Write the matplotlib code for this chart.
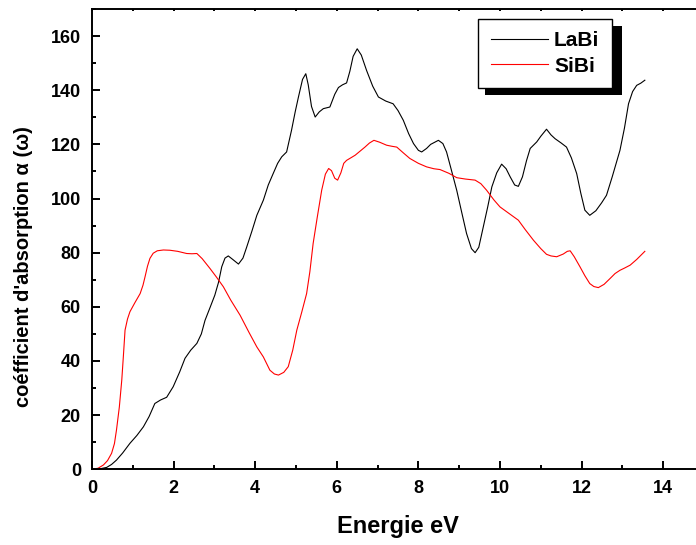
import matplotlib
matplotlib.use("Agg")
import matplotlib.pyplot as plt
from matplotlib.patches import Rectangle

plt.rcParams['font.family'] = ['Liberation Sans', 'DejaVu Sans']
plt.rcParams['font.weight'] = 'bold'

# LaBi curve
labi_x = [0, 0.2, 0.36, 0.48, 0.6, 0.75, 0.93, 1.1, 1.26, 1.4, 1.54, 1.68, 1.83, 1.99,
          2.15, 2.28, 2.42, 2.57, 2.68, 2.77, 2.9, 3.01, 3.1, 3.18, 3.26, 3.34, 3.45,
          3.59, 3.7, 3.79, 3.92, 4.04, 4.2, 4.32, 4.44, 4.55, 4.65, 4.77, 4.89, 4.98,
          5.06, 5.16, 5.24, 5.3, 5.38, 5.47, 5.57, 5.67, 5.83, 5.95, 6.04, 6.14, 6.24,
          6.32, 6.4, 6.5, 6.6, 6.73, 6.88, 7.02, 7.2, 7.38, 7.5, 7.63, 7.76, 7.88, 8.0,
          8.08, 8.2, 8.3, 8.49, 8.6, 8.69, 8.8, 8.94, 9.06, 9.18, 9.3, 9.39, 9.48, 9.59,
          9.7, 9.8, 9.92, 10.04, 10.15, 10.25, 10.36, 10.45, 10.55, 10.65, 10.74, 10.9,
          11.0, 11.14, 11.25, 11.35, 11.5, 11.63, 11.75, 11.88, 11.98, 12.08, 12.2,
          12.35, 12.49, 12.61, 12.75, 12.94, 13.05, 13.15, 13.25, 13.35, 13.45, 13.55]
labi_y = [0, 0.2, 0.7, 1.8, 3.4, 6, 9.6, 12.5, 15.7, 19.5, 24.3, 25.6, 26.6, 30.5,
          36, 41, 44, 46.5, 50, 55, 60, 64.3, 69, 74.8, 78, 78.8, 77.5,
          75.8, 78, 82, 88, 93.8, 99.4, 105, 109.2, 113, 115.4, 117.2, 125.2, 132,
          137.5, 144, 146.1, 142, 134, 130.1, 132, 133.2, 133.8, 138.5, 141, 142, 142.7,
          147, 152.5, 155.3, 153, 147.3, 141.5, 137.5, 136, 135, 132.5, 128.9, 124, 120.3, 117.8,
          117.2, 118.5, 120, 121.5, 120.3, 117.2, 111, 103, 95, 87.1, 81.5, 80, 82, 89.5,
          97, 104.3, 109.5, 112.7, 111, 108, 105, 104.5, 108, 114, 118.5, 120.9,
          123, 125.6, 123.5, 122.1, 120.5, 119, 115, 109.2, 102, 95.7, 93.8,
          95.5, 98.4, 101.2, 108, 117.8, 126, 135, 139.5, 141.8, 142.6, 143.7]

# SiBi curve
sibi_x = [0, 0.15, 0.28, 0.38, 0.48, 0.55, 0.6, 0.67, 0.73, 0.77, 0.81, 0.87, 0.93,
          1.05, 1.18, 1.25, 1.3, 1.36, 1.42, 1.5, 1.6, 1.75, 1.91, 2.1, 2.32, 2.45,
          2.57, 2.7, 2.89, 3.05, 3.22, 3.4, 3.63, 3.85, 4.04, 4.2, 4.36, 4.47, 4.57,
          4.7, 4.81, 4.92, 5.02, 5.14, 5.26, 5.34, 5.42, 5.52, 5.63, 5.72, 5.8, 5.87,
          5.95, 6.02, 6.1, 6.17, 6.24, 6.34, 6.45, 6.57, 6.69, 6.8, 6.91, 7.05, 7.22,
          7.35, 7.47, 7.62, 7.79, 8.0, 8.2, 8.38, 8.53, 8.75, 8.94, 9.15, 9.39, 9.53,
          9.67, 9.85, 10.0, 10.22, 10.45, 10.62, 10.82, 11.0, 11.14, 11.25, 11.39,
          11.55, 11.65, 11.72, 11.82, 11.96, 12.08, 12.2, 12.3, 12.41, 12.55, 12.7,
          12.82, 12.94, 13.05, 13.19, 13.35, 13.55]
sibi_y = [0, 0.4, 1.6, 3.2, 5.9, 9.5, 14.5, 23, 33, 42, 51.4, 55.5, 58.2,
          61.5, 64.9, 68, 71.1, 75, 77.9, 79.8, 80.7, 81, 80.9, 80.5, 79.7, 79.6,
          79.7, 77.8, 74.2, 71, 67.4, 62.5, 56.9, 50.5, 45.2, 41.5, 36.6, 35.2, 34.8,
          35.8, 37.9, 44, 51.4, 58, 64.9, 73, 83.4, 93, 103.1, 109, 111.1, 110.3,
          107.5, 106.8, 109.5, 113, 114.1, 115, 116, 117.5, 119, 120.5, 121.5, 120.8, 119.7,
          119.3, 119, 117, 114.8, 113, 111.7, 111, 110.7, 109.3, 107.7, 107.2, 106.8, 105.5,
          103.1, 99.5, 96.9, 94.5, 92, 88.5, 84.6, 81.5, 79.4, 78.8, 78.5,
          79.5, 80.5, 80.7, 78.5, 74.8, 71.5, 68.6, 67.5, 67.1, 68.3, 70.5,
          72.3, 73.5, 74.3, 75.4, 77.5, 80.5]

fig = plt.figure(figsize=(6.96, 5.45), dpi=100)
ax = fig.add_axes([92 / 696, 1 - 469.3 / 545, 612 / 696, 460.3 / 545])

ax.plot(labi_x, labi_y, color='black', lw=0.8, label='LaBi')
ax.plot(sibi_x, sibi_y, color='red', lw=0.8, label='SiBi')

ax.set_xlim(0, 15)
ax.set_ylim(0, 170)
ax.set_xticks(range(0, 15, 2))
ax.set_xticks(range(1, 15, 2), minor=True)
ax.set_yticks(range(0, 161, 20))
ax.set_yticks(range(10, 171, 20), minor=True)

for s in ax.spines.values():
    s.set_linewidth(1.4)
ax.tick_params(which='major', direction='in', length=6, width=1.4, labelsize=13, pad=8)
ax.tick_params(which='minor', direction='in', length=3, width=1.4)
ax.tick_params(axis='x', which='both', top=True, labeltop=False)
for t in ax.xaxis.get_ticklines(minor=False)[1::2] + ax.xaxis.get_ticklines(minor=True)[1::2]:
    t.set_markersize(1.5)

ax.set_xlabel('Energie eV', fontsize=17, fontweight='bold', labelpad=13)
ax.set_ylabel("coéfficient d'absorption α (ω)", fontsize=14.5, fontweight='bold')
ax.yaxis.set_label_coords(-0.096, 0.44)

leg = ax.legend(loc='upper left', bbox_to_anchor=(478 / 696, 1 - 19 / 545),
                bbox_transform=fig.transFigure, borderaxespad=0, frameon=True,
                fancybox=False, framealpha=1, prop={'size': 15, 'weight': 'bold'},
                handlelength=2.75, handletextpad=0.3, labelspacing=0.3,
                borderpad=0.6)
leg.get_frame().set_edgecolor('black')
leg.get_frame().set_linewidth(1.0)

fig.canvas.draw()
bb = leg.get_window_extent()
shadow = Rectangle((bb.x0 + 7, bb.y0 - 7), bb.width + 3, bb.height, transform=None,
                   facecolor='black', edgecolor='none', zorder=leg.get_zorder() - 0.5)
ax.add_artist(shadow)
shadow.set_clip_on(False)
leg.get_frame().set_width(leg.get_frame().get_width() + 3)

fig.savefig('out.png', dpi=100)
